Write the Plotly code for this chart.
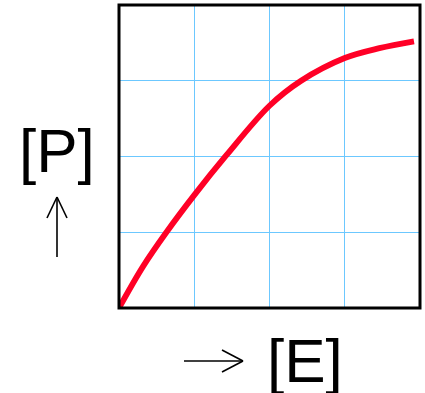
import plotly.graph_objects as go

# Product concentration [P] as a function of enzyme concentration [E]
enzyme = [0, 0.32, 0.63, 1.0, 1.43, 2.0, 2.42, 3.0, 3.46, 3.92]
product = [0, 0.55, 1.0, 1.49, 2.02, 2.67, 3.0, 3.30, 3.43, 3.52]

grid_ticks = [1, 2, 3]
x_label = "[E]"
y_label = "[P]"

W, H = 425, 393
ML, MR, MT, MB = 119, 5, 5, 85

fig = go.Figure()
fig.add_trace(go.Scatter(
    x=enzyme, y=product, mode="lines",
    line=dict(color="#ff0026", width=5.8, shape="spline", smoothing=1.0),
    hoverinfo="skip",
))

axis_common = dict(
    range=[0, 4], tickvals=grid_ticks, showticklabels=False, ticks="",
    showgrid=True, gridcolor="#6cc8ff", gridwidth=1, zeroline=False,
    showline=False, fixedrange=True,
)
fig.update_xaxes(**axis_common)
fig.update_yaxes(**axis_common)

# Frame around the plotting area
fig.add_shape(type="rect", xref="paper", yref="paper", x0=0, y0=0, x1=1, y1=1,
              line=dict(color="black", width=3), layer="above")


def px_to_paper(px, py):
    """Convert page pixel coordinates to paper coordinates."""
    return (px - ML) / (W - ML - MR), (H - MB - py) / (H - MT - MB)


def draw_line(p0, p1, width=1.6):
    x0, y0 = px_to_paper(*p0)
    x1, y1 = px_to_paper(*p1)
    fig.add_shape(type="line", xref="paper", yref="paper",
                  x0=x0, y0=y0, x1=x1, y1=y1,
                  line=dict(color="black", width=width))


# Upward arrow under the [P] label
draw_line((57, 197), (57, 257))
draw_line((57, 197), (47, 218))
draw_line((57, 197), (67, 218))

# Rightward arrow before the [E] label
draw_line((184, 361), (243, 361))
draw_line((243, 361), (222, 350))
draw_line((243, 361), (222, 372))

label_font = dict(family="Liberation Sans, Arial, sans-serif", size=62, color="black")
px_, py_ = px_to_paper(57, 151)
fig.add_annotation(text=y_label, xref="paper", yref="paper", x=px_, y=py_,
                   xanchor="center", yanchor="middle", showarrow=False, font=label_font)
ex_, ey_ = px_to_paper(305, 360)
fig.add_annotation(text=x_label, xref="paper", yref="paper", x=ex_, y=ey_,
                   xanchor="center", yanchor="middle", showarrow=False, font=label_font)

fig.update_layout(
    width=W, height=H,
    margin=dict(l=ML, r=MR, t=MT, b=MB),
    paper_bgcolor="white", plot_bgcolor="white",
    showlegend=False,
)

fig.write_html("out.html", config={"displayModeBar": False})
